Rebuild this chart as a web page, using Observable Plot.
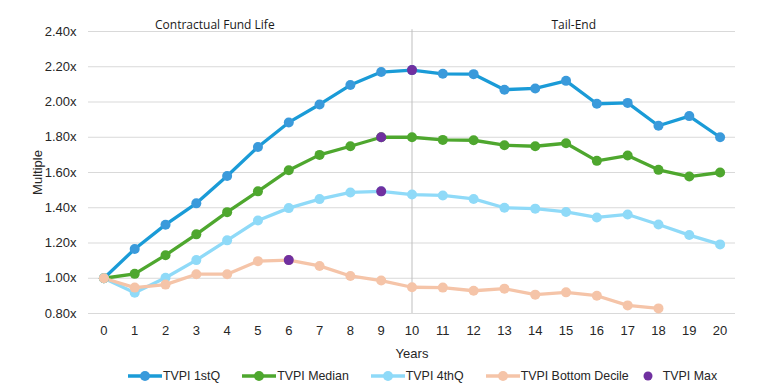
<!DOCTYPE html>
<html>
<head>
<meta charset="utf-8">
<script src="https://cdn.jsdelivr.net/npm/d3@7"></script>
<script src="https://cdn.jsdelivr.net/npm/@observablehq/plot@0.6"></script>
<style>
  html, body { margin: 0; padding: 0; background: #fff; }
  #chart { width: 767px; }
  .legend { display: flex; align-items: center; gap: 22px; padding-left: 128px; height: 28px;
            font-family: "Liberation Sans", Arial, sans-serif; font-size: 12.4px; color: #262626; }
  .item { display: flex; align-items: center; }
  .item svg { margin-right: 1px; }
</style>
</head>
<body>
<div id="chart"></div>
<script>
const years = d3.range(0, 21);
const tvpi1stQ   = [1.00, 1.166, 1.304, 1.425, 1.58, 1.745, 1.884, 1.986, 2.096, 2.17, 2.181, 2.16, 2.158, 2.07, 2.077, 2.12, 1.99, 1.995, 1.865, 1.92, 1.80];
const tvpiMedian = [1.00, 1.025, 1.131, 1.249, 1.375, 1.493, 1.613, 1.70, 1.749, 1.80, 1.80, 1.785, 1.783, 1.755, 1.749, 1.766, 1.666, 1.696, 1.615, 1.577, 1.60];
const tvpi4thQ   = [1.00, 0.918, 1.003, 1.103, 1.215, 1.328, 1.398, 1.449, 1.487, 1.493, 1.475, 1.47, 1.45, 1.40, 1.395, 1.376, 1.345, 1.362, 1.305, 1.245, 1.192];
const tvpiBottom = [1.00, 0.947, 0.964, 1.023, 1.023, 1.097, 1.103, 1.07, 1.013, 0.987, 0.949, 0.947, 0.929, 0.941, 0.907, 0.92, 0.901, 0.846, 0.829];
const seriesNames = ["TVPI 1stQ", "TVPI Median", "TVPI 4thQ", "TVPI Bottom Decile"];
const seriesValues = [tvpi1stQ, tvpiMedian, tvpi4thQ, tvpiBottom];
const lineColors = ["#1A9BD7", "#4EA72E", "#8FDAF8", "#F5C4A8"];
const dotColors  = ["#3A9ADB", "#4EA72E", "#8FDAF8", "#F5C4A8"];
const maxName = "TVPI Max";
const maxColor = "#7030A0";
const yTicks = [0.8, 1.0, 1.2, 1.4, 1.6, 1.8, 2.0, 2.2, 2.4];
const phaseLabels = ["Contractual Fund Life", "Tail-End"];
const phaseLabelX = [3.6, 15.25];
const phaseBoundary = 10;

const rows = [];
seriesValues.forEach((vals, i) => vals.forEach((v, j) => rows.push({series: seriesNames[i], year: years[j], value: v, idx: i})));
const maxRows = seriesValues.map((vals, i) => {
  const m = d3.maxIndex(vals);
  return {series: seriesNames[i], year: years[m], value: vals[m]};
});

const font = '"Liberation Sans", Arial, sans-serif';
const chart = Plot.plot({
  width: 767,
  height: 362,
  marginTop: 31,
  marginBottom: 49,
  marginLeft: 88,
  marginRight: 32,
  style: {fontFamily: font, fontSize: "13px", color: "#262626", background: "#fff"},
  x: {domain: [-0.5, 20.5]},
  y: {domain: [0.8, 2.4]},
  marks: [
    Plot.gridY(yTicks, {stroke: "#D9D9D9", strokeOpacity: 1, strokeWidth: 1}),
    Plot.ruleX([phaseBoundary], {y1: 2.41, y2: 0.8, stroke: "#BFBFBF", strokeWidth: 1}),
    Plot.axisX({ticks: years, tickSize: 0, tickPadding: 12, tickFormat: d => String(d), fontSize: 13, label: "Years", labelAnchor: "center", labelArrow: "none", labelOffset: 44}),
    Plot.axisY({ticks: yTicks, tickSize: 0, tickPadding: 12, tickFormat: d => d.toFixed(2) + "x", fontSize: 13, label: "Multiple", labelAnchor: "center", labelArrow: "none", labelOffset: 56}),
    ...seriesNames.map((name, i) =>
      Plot.line(rows.filter(r => r.series === name), {x: "year", y: "value", stroke: lineColors[i], strokeWidth: 3.3, curve: "linear"})),
    ...seriesNames.map((name, i) =>
      Plot.dot(rows.filter(r => r.series === name), {x: "year", y: "value", fill: dotColors[i], r: 5, stroke: "none"})),
    Plot.dot(maxRows, {x: "year", y: "value", fill: maxColor, r: 5, stroke: "none"}),
    Plot.text(phaseLabels, {x: (d, i) => phaseLabelX[i], text: d => d, frameAnchor: "top", dy: -11, fontFamily: '"Open Sans", sans-serif', fontSize: 12, fill: "#1a1a1a"})
  ]
});
document.getElementById("chart").appendChild(chart);

const legend = document.createElement("div");
legend.className = "legend";
seriesNames.forEach((name, i) => {
  const it = document.createElement("div");
  it.className = "item";
  it.innerHTML = `<svg width="34" height="12"><line x1="0" y1="6" x2="34" y2="6" stroke="${lineColors[i]}" stroke-width="3.3"/><circle cx="17" cy="6" r="5" fill="${dotColors[i]}"/></svg><span>${name}</span>`;
  legend.appendChild(it);
});
const mx = document.createElement("div");
mx.className = "item";
mx.style.marginLeft = "-8px";
mx.innerHTML = `<svg width="10" height="12"><circle cx="5" cy="6" r="4.5" fill="${maxColor}"/></svg><span style="margin-left:9px">${maxName}</span>`;
legend.appendChild(mx);
document.getElementById("chart").appendChild(legend);
</script>
</body>
</html>
